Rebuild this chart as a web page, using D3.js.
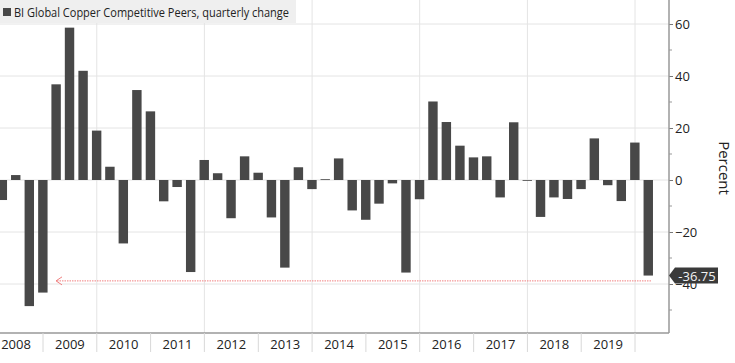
<!DOCTYPE html>
<html>
<head>
<meta charset="utf-8">
<script src="https://cdn.jsdelivr.net/npm/d3@7"></script>
<style>
  body { margin: 0; background: #fff; }
  svg { display: block; font-family: "Open Sans", sans-serif; }
</style>
</head>
<body>
<script>
const W = 735, H = 363;

// quarter end dates and quarterly change in %
const quarters = [
  "2008-03-31","2008-06-30","2008-09-30","2008-12-31",
  "2009-03-31","2009-06-30","2009-09-30","2009-12-31",
  "2010-03-31","2010-06-30","2010-09-30","2010-12-31",
  "2011-03-31","2011-06-30","2011-09-30","2011-12-31",
  "2012-03-31","2012-06-30","2012-09-30","2012-12-31",
  "2013-03-31","2013-06-30","2013-09-30","2013-12-31",
  "2014-03-31","2014-06-30","2014-09-30","2014-12-31",
  "2015-03-31","2015-06-30","2015-09-30","2015-12-31",
  "2016-03-31","2016-06-30","2016-09-30","2016-12-31",
  "2017-03-31","2017-06-30","2017-09-30","2017-12-31",
  "2018-03-31","2018-06-30","2018-09-30","2018-12-31",
  "2019-03-31","2019-06-30","2019-09-30","2019-12-31",
  "2020-03-31"
];
const changes = [
  -7.7, 1.9, -48.5, -43.3,
  36.8, 58.6, 42.0, 19.0,
  5.1, -24.4, 34.6, 26.4,
  -8.2, -2.7, -35.4, 7.7,
  2.6, -14.7, 9.1, 2.8,
  -14.4, -33.7, 4.9, -3.5,
  0.3, 8.3, -11.7, -15.3,
  -9.1, -1.3, -35.6, -7.4,
  30.2, 22.3, 13.2, 8.7,
  9.1, -6.7, 22.2, -0.2,
  -14.2, -6.7, -7.3, -3.5,
  16.0, -2.0, -8.1, 14.4,
  -36.75
];
const yTicks = [60, 40, 20, 0, -20, -40];
const yMinor = [50, 30, 10, -10, -30, -50];
const yearLabels = ["2008","2009","2010","2011","2012","2013","2014","2015","2016","2017","2018","2019"];
const refLevel = -38.8;   // red dotted reference line
const lastLabel = "-36.75";
const legendText = "BI Global Copper Competitive Peers, quarterly change";

const parse = d3.utcParse("%Y-%m-%d");
const data = quarters.map((q, i) => ({ date: parse(q), value: changes[i] }));

const plotRight = 669, plotBottom = 333;

const x = d3.scaleUtc()
  .domain([parse("2009-01-01"), parse("2020-01-01")])
  .range([43, 635]);

const y = d3.scaleLinear()
  .domain([0, 60])
  .range([180, 24]);

const svg = d3.select("body").append("svg")
  .attr("width", W)
  .attr("height", H);

// gridlines
svg.append("g")
  .selectAll("line")
  .data(yTicks)
  .join("line")
    .attr("x1", 0).attr("x2", plotRight)
    .attr("y1", d => y(d)).attr("y2", d => y(d))
    .attr("stroke", "#e4e4e4")
    .attr("stroke-width", 1);

const gridYears = ["2010","2012","2014","2016","2018","2020"];
svg.append("g")
  .selectAll("line")
  .data(gridYears)
  .join("line")
    .attr("x1", d => x(parse(d + "-01-01"))).attr("x2", d => x(parse(d + "-01-01")))
    .attr("y1", 0).attr("y2", plotBottom)
    .attr("stroke", "#e4e4e4")
    .attr("stroke-width", 1);

// bars
const step = x(parse("2009-04-01")) - x(parse("2009-01-01"));
const bw = step * 0.71;
svg.append("g")
  .selectAll("rect")
  .data(data)
  .join("rect")
    .attr("x", d => x(d.date) - bw / 2)
    .attr("width", bw)
    .attr("y", d => Math.min(y(d.value), y(0)))
    .attr("height", d => Math.max(0.8, Math.abs(y(d.value) - y(0))))
    .attr("fill", "#484848");

// red dotted reference line with arrow
svg.append("line")
  .attr("x1", 57).attr("x2", 651)
  .attr("y1", y(refLevel)).attr("y2", y(refLevel))
  .attr("stroke", "#f08080")
  .attr("stroke-width", 1)
  .attr("stroke-dasharray", "1.5,1");
svg.append("path")
  .attr("d", `M62,${y(refLevel) - 4} L56,${y(refLevel)} L62,${y(refLevel) + 4}`)
  .attr("fill", "none")
  .attr("stroke", "#f08080")
  .attr("stroke-width", 1);

// right y axis
const yAxis = d3.axisRight(y).tickValues(yTicks).tickSize(4).tickPadding(2).tickFormat(d3.format("d"));
const gy = svg.append("g")
  .attr("transform", `translate(${plotRight},0)`)
  .call(yAxis);
gy.select(".domain").remove();
gy.selectAll(".tick line").attr("stroke", "#777");
gy.selectAll(".tick text")
  .attr("font-size", 13)
  .attr("font-family", "Open Sans, sans-serif")
  .attr("fill", "#222");
svg.append("g")
  .selectAll("line")
  .data(yMinor)
  .join("line")
    .attr("x1", plotRight).attr("x2", plotRight + 3)
    .attr("y1", d => y(d)).attr("y2", d => y(d))
    .attr("stroke", "#999");

svg.append("line")
  .attr("x1", plotRight).attr("x2", plotRight)
  .attr("y1", 0).attr("y2", plotBottom)
  .attr("stroke", "#999").attr("stroke-width", 1.5);

svg.append("text")
  .attr("transform", `translate(719,168) rotate(90)`)
  .attr("text-anchor", "middle")
  .attr("font-size", 15)
  .attr("fill", "#222")
  .text("Percent");

// bottom axis
svg.append("line")
  .attr("x1", 0).attr("x2", plotRight)
  .attr("y1", plotBottom).attr("y2", plotBottom)
  .attr("stroke", "#999").attr("stroke-width", 1.5);

const yearStarts = yearLabels.map(d => parse(d + "-01-01")).concat([parse("2020-01-01")]);
svg.append("g")
  .selectAll("line")
  .data(yearStarts.slice(1))
  .join("line")
    .attr("x1", d => x(d)).attr("x2", d => x(d))
    .attr("y1", plotBottom).attr("y2", plotBottom + 19)
    .attr("stroke", "#d8d8d8");

svg.append("g")
  .selectAll("text")
  .data(yearLabels)
  .join("text")
    .attr("x", (d, i) => (x(yearStarts[i]) + x(yearStarts[i + 1])) / 2)
    .attr("y", 349)
    .attr("text-anchor", "middle")
    .attr("font-size", 13)
    .attr("fill", "#222")
    .text(d => d);

// last value label
const ly = y(changes[changes.length - 1]);
const lab = svg.append("g").attr("transform", `translate(${plotRight},${ly})`);
lab.append("path")
  .attr("d", "M0,0 L6,-8 L49,-8 L49,8 L6,8 Z")
  .attr("fill", "#3a3a3a");
lab.append("text")
  .attr("x", 28).attr("y", 5)
  .attr("text-anchor", "middle")
  .attr("font-size", 13)
  .attr("fill", "#f2f2f2")
  .text(lastLabel);

// legend
svg.append("rect")
  .attr("x", 0).attr("y", 0)
  .attr("width", 296).attr("height", 23)
  .attr("fill", "#efefef");
svg.append("rect")
  .attr("x", 3).attr("y", 8)
  .attr("width", 8).attr("height", 8)
  .attr("fill", "#484848");
svg.append("text")
  .attr("x", 14).attr("y", 16.5)
  .attr("font-size", 12)
  .attr("textLength", 275)
  .attr("lengthAdjust", "spacingAndGlyphs")
  .attr("fill", "#222")
  .text(legendText);
</script>
</body>
</html>
